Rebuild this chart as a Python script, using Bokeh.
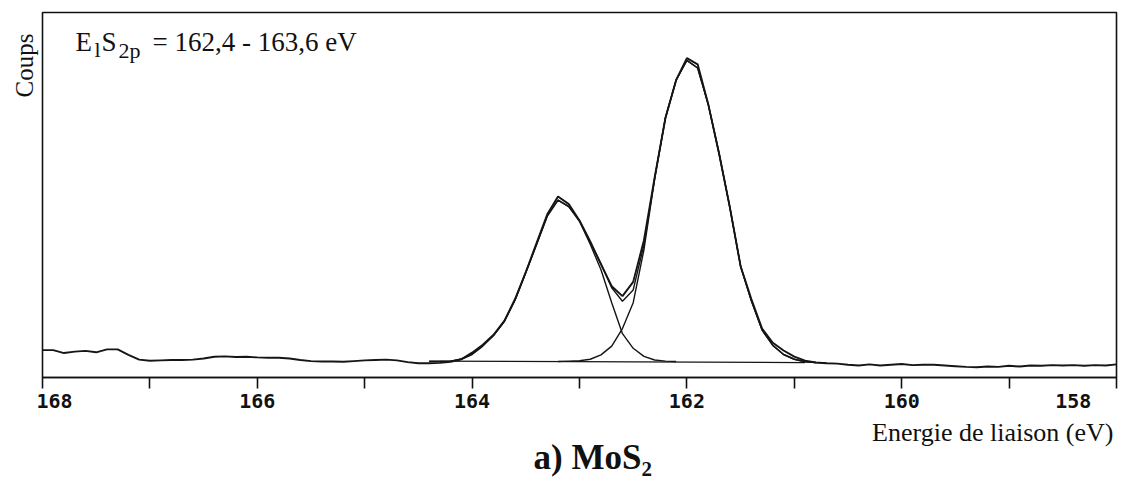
from bokeh.plotting import figure
from bokeh.layouts import column
from bokeh.models import Range1d, Label, FixedTicker, Title
from bokeh.embed import file_html
from bokeh.resources import INLINE

# ---------------- data (binding energy in eV, counts in arbitrary units) ----------------
energy = [round(168.0 - 0.1 * i, 1) for i in range(101)]
counts = [
    7.5, 7.5, 6.7, 7.1, 7.3, 6.9, 7.7, 7.7, 6.2, 4.9,
    4.6, 4.7, 4.8, 4.8, 4.9, 5.2, 5.7, 5.8, 5.6, 5.7,
    5.5, 5.4, 5.4, 5.2, 4.8, 4.5, 4.4, 4.4, 4.3, 4.5,
    4.7, 4.8, 4.9, 4.7, 4.2, 3.9, 3.9, 4.0, 4.3, 5.0,
    6.8, 9.0, 11.7, 15.5, 21.5, 28.9, 36.8, 44.7, 49.6, 47.5,
    43.0, 37.3, 31.0, 25.0, 22.3, 26.2, 37.6, 54.8, 71.1, 81.5,
    87.5, 85.8, 74.7, 61.3, 46.6, 30.5, 21.5, 13.4, 9.5, 7.4,
    5.7, 4.6, 4.1, 3.9, 3.8, 3.5, 3.3, 3.6, 3.3, 3.5,
    3.7, 3.4, 3.5, 3.5, 3.3, 3.1, 2.9, 2.8, 3.0, 2.9,
    3.2, 3.0, 3.3, 3.2, 3.4, 3.3, 3.4, 3.2, 3.4, 3.3,
    3.6,
]

fit_energy = [round(164.3 - 0.1 * i, 1) for i in range(36)]
fit_counts = [
    4.4, 4.5, 5.1, 6.5, 8.8, 11.6, 15.4, 21.3, 28.8, 36.5,
    44.3, 48.6, 46.8, 42.9, 37.0, 31.2, 24.6, 20.9, 24.0, 36.3,
    54.7, 71.1, 81.5, 86.9, 84.8, 74.7, 61.3, 46.6, 30.5, 21.0,
    13.0, 8.8, 6.3, 5.0, 4.3, 4.1,
]

comp1_energy = [round(164.4 - 0.1 * i, 1) for i in range(24)]
comp1_counts = [
    4.4, 4.4, 4.5, 5.0, 6.3, 8.6, 11.5, 15.3, 21.2, 28.7,
    36.4, 44.2, 48.6, 46.8, 42.8, 36.5, 29.5, 20.5, 12.0, 8.0,
    5.8, 4.8, 4.5, 4.4,
]

comp2_energy = [round(163.2 - 0.1 * i, 1) for i in range(26)]
comp2_counts = [
    4.4, 4.5, 4.6, 5.0, 6.2, 8.6, 13.4, 20.5, 35.0, 54.4,
    71.1, 81.5, 86.9, 84.8, 74.7, 61.3, 46.6, 30.5, 21.0, 13.0,
    8.8, 6.3, 5.0, 4.3, 4.1, 4.0,
]

bg_energy = [164.4, 160.9]
bg_counts = [4.5, 4.1]

tick_values = [158, 159, 160, 161, 162, 163, 164, 165, 166, 167, 168]
tick_text = {168: "\u00a0\u00a0168", 166: "166", 164: "164", 162: "162",
             160: "160", 158: "158\u00a0\u00a0\u00a0"}

W = 1127
H1, H2 = 415, 62
FL, FR = 42, 1116   # frame left / right in page pixels

# ---------------- main figure ----------------
p = figure(width=W, height=H1, output_backend="svg", toolbar_location=None,
           x_range=Range1d(168, 158), y_range=Range1d(0, 100),
           y_axis_location=None, min_border_left=FL, min_border_right=W - FR,
           min_border_top=12, min_border_bottom=H1 - 379)
p.xgrid.visible = False
p.ygrid.visible = False
p.outline_line_color = "#111111"
p.outline_line_width = 1.6
p.background_fill_color = "white"
p.border_fill_color = "white"

ax = p.xaxis[0]
ax.ticker = FixedTicker(ticks=tick_values)
ax.major_label_overrides = {t: tick_text.get(t, "") for t in tick_values}
ax.axis_line_color = "#111111"
ax.axis_line_width = 1.6
ax.major_tick_line_color = "#111111"
ax.major_tick_line_width = 1.6
ax.major_tick_in = 0
ax.major_tick_out = 11
ax.minor_tick_line_color = None
ax.major_label_text_font = "DejaVu Sans Mono"
ax.major_label_text_font_style = "bold"
ax.major_label_text_font_size = "20px"
ax.major_label_text_color = "#111111"
ax.major_label_standoff = 0

ink = "#151515"
p.line(bg_energy, bg_counts, line_color=ink, line_width=1.3)
p.line(comp1_energy, comp1_counts, line_color=ink, line_width=1.4)
p.line(comp2_energy, comp2_counts, line_color=ink, line_width=1.4)
p.line(fit_energy, fit_counts, line_color=ink, line_width=1.4)
p.line(energy, counts, line_color=ink, line_width=1.9)

p.add_layout(Title(text="Coups", align="right", offset=21, standoff=9,
                   text_font="Liberation Serif", text_font_size="25px",
                   text_font_style="normal", text_color="#111111"), "left")

# annotation inside the frame (page pixels -> data coords)
def dx(px):
    return 168 - (px - FL) / ((FR - FL) / 10)

def dy(py):
    return (379 - py) / 3.67

def lab(text, px, py, size):
    p.add_layout(Label(x=dx(px), y=dy(py), text=text, text_font="Liberation Serif",
                       text_font_size=size, text_color="#111111",
                       text_align="left", text_baseline="alphabetic"))

lab("E", 75, 42, "27px")
lab("l", 94, 49, "22px")
lab("S", 101, 42, "27px")
lab("2p", 118, 50, "22px")
lab("= 162,4 - 163,6 eV", 152, 42, "27px")

# ---------------- caption strip (pixel coordinates) ----------------
c = figure(width=W, height=H2, output_backend="svg", toolbar_location=None,
           title=None,
           x_range=Range1d(FL, FR), y_range=Range1d(H1 + H2, H1),
           x_axis_location=None, y_axis_location=None,
           min_border_left=FL, min_border_right=W - FR, min_border_top=0, min_border_bottom=0)
c.xgrid.visible = False
c.ygrid.visible = False
c.outline_line_color = None
c.background_fill_color = "white"
c.border_fill_color = "white"

c.add_layout(Label(x=1113, y=432, text="Energie de liaison (eV)", text_font="Liberation Serif",
                   text_font_size="26px", text_color="#111111",
                   text_align="right", text_baseline="alphabetic"))
c.add_layout(Label(x=533, y=457, text="a) MoS\u2082", text_font="Liberation Serif",
                   text_font_size="35px", text_font_style="bold", text_color="#111111",
                   text_align="left", text_baseline="alphabetic"))

open("out.html", "w").write(file_html(column(p, c), INLINE))
